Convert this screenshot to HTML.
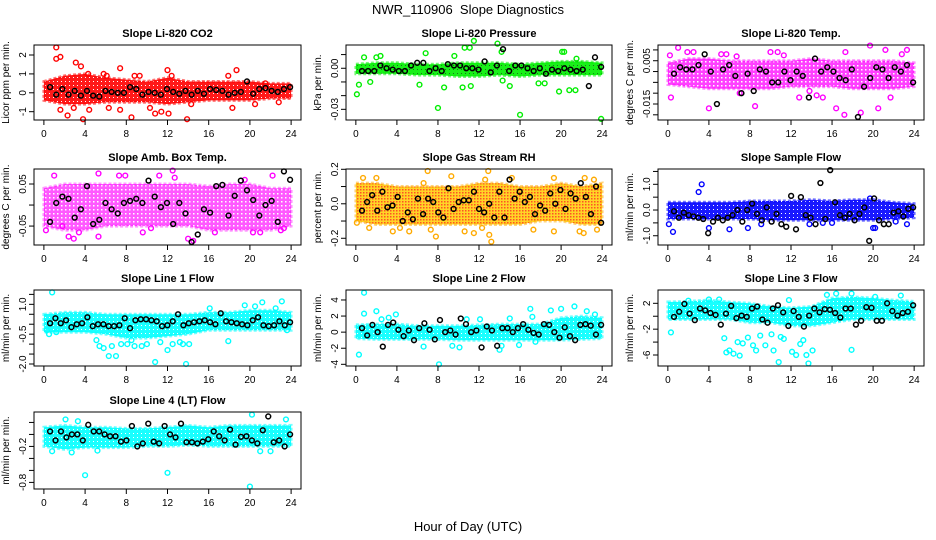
<!DOCTYPE html>
<html><head><meta charset="utf-8"><style>
html,body{margin:0;padding:0;background:#fff;}
svg{display:block;font-family:"Liberation Sans",sans-serif;}
</style></head><body>
<svg id="chart" width="936" height="540" viewBox="0 0 936 540" xmlns="http://www.w3.org/2000/svg">
<defs>
<pattern id="rhpat" width="3" height="3" patternUnits="userSpaceOnUse"><rect width="3" height="3" fill="#ffcc00"/><rect width="1.5" height="1.5" fill="#ff3300"/></pattern>
<pattern id="pat-ff0000" width="4" height="4" patternUnits="userSpaceOnUse"><rect width="4" height="4" fill="#ff0000"/><rect x="1" y="1" width="1" height="1" fill="#fff"/></pattern>
<pattern id="pat-00ee00" width="4" height="4" patternUnits="userSpaceOnUse"><rect width="4" height="4" fill="#00ee00"/><rect x="1" y="1" width="1" height="1" fill="#006600"/></pattern>
<pattern id="pat-ff00ff" width="4" height="4" patternUnits="userSpaceOnUse"><rect width="4" height="4" fill="#ff00ff"/><rect x="1" y="1" width="1.5" height="1.5" fill="#fff"/></pattern>
<pattern id="pat-0000ff" width="4" height="4" patternUnits="userSpaceOnUse"><rect width="4" height="4" fill="#0000ff"/><rect x="1" y="1" width="1" height="1" fill="#fff"/></pattern>
<pattern id="pat-00ffff" width="4" height="4" patternUnits="userSpaceOnUse"><rect width="4" height="4" fill="#00ffff"/><rect x="1" y="1" width="1" height="1" fill="#fff"/></pattern>
</defs>
<text x="468" y="14" text-anchor="middle" font-size="13">NWR_110906&#160; Slope Diagnostics</text>
<text x="468" y="531" text-anchor="middle" font-size="13">Hour of Day (UTC)</text>
<g id="panels"></g>
</svg>
<script>
const bandHours=[0,2,4,6,8,10,12,14,16,18,20,22,24];
const xTicks=[0,4,8,12,16,20,24];
// CO2
const p1Upper=[0.6,0.9,1.0,0.8,0.7,0.6,0.8,0.6,0.6,0.6,0.6,0.5,0.5];
const p1Lower=[-0.4,-0.6,-0.6,-0.5,-0.5,-0.5,-0.6,-0.5,-0.4,-0.4,-0.4,-0.3,-0.3];
const p1OutX=[1.2,1.2,1.6,3.1,3.6,2.3,2.9,3.8,4.4,1.6,7.4,7.4,8.5,8.8,9.3,10.3,10.8,11.4,12.1,12.0,12.4,13.9,14.3,17.9,18.3,18.7,20.5,21.5,4.3,5.8,6.1,6.3,22.8];
const p1OutY=[2.4,1.8,1.9,1.6,1.4,-1.2,-0.8,-1.4,-0.9,-0.9,1.3,-0.9,-1.3,0.9,0.9,-0.8,-1.1,-1.0,-1.1,1.2,0.9,-1.4,-0.6,0.9,-0.8,1.2,-0.6,0.5,1.0,1.0,0.9,-0.8,-0.5];
const p1Black=[0.3,-0.1,0.2,-0.1,0.1,-0.15,0.1,-0.15,-0.2,0.1,0.05,0,0,0.3,0.2,-0.1,0.05,0,-0.1,0.2,0.05,-0.05,0.1,-0.1,0.1,-0.05,0.2,0.15,0.1,-0.1,0.0,0.05,0.6,-0.05,0.2,0.25,0.1,0.05,0.2,0.3];
// Pressure
const p2Upper=[0.003,0.004,0.004,0.003,0.003,0.004,0.004,0.004,0.003,0.004,0.005,0.005,0.004];
const p2Lower=[-0.004,-0.004,-0.004,-0.005,-0.005,-0.006,-0.006,-0.005,-0.006,-0.005,-0.005,-0.005,-0.005];
const p2OutX=[0.1,0.3,0.8,1.4,2.0,2.4,6.2,6.8,8.0,8.6,9.6,10.4,10.6,11.1,11.5,11.2,13.8,14.2,15.0,16.0,17.8,18.4,19.8,20.1,20.3,20.8,21.4,21.5,23.9,14.3];
const p2OutY=[-0.019,-0.012,0.008,-0.010,0.008,0.009,-0.012,0.011,-0.029,-0.014,0.009,-0.014,0.015,0.015,0.020,-0.013,0.018,0.012,-0.013,-0.034,-0.011,-0.011,-0.017,0.012,0.012,-0.016,-0.016,0.007,-0.037,-0.009];
const p2Black=[-0.002,-0.002,-0.002,0.002,0,-0.001,-0.002,-0.002,0.002,0.004,0.004,-0.002,0,-0.002,0.003,0.002,0.002,0,0,-0.001,0.005,-0.003,0.002,0.014,-0.002,0.002,0.002,0,-0.002,0,-0.004,-0.001,-0.002,0,-0.001,-0.002,-0.001,-0.013,0.008,0.001];
// Li-820 Temp
const p3Upper=[0.004,0.006,0.006,0.005,0.005,0.005,0.005,0.006,0.005,0.005,0.005,0.005,0.004];
const p3Lower=[-0.006,-0.007,-0.008,-0.008,-0.008,-0.008,-0.007,-0.007,-0.007,-0.008,-0.008,-0.008,-0.007];
const p3OutX=[0.3,0.2,1.0,1.9,2.5,4.0,5.2,5.7,6.7,8.5,10.0,10.7,11.3,12.8,14.5,15.1,16.4,17.2,17.3,18.8,19.7,20.5,21.2,21.7,22.8,23.3,13.8,7.0];
const p3OutY=[-0.012,0.0075,0.011,0.009,0.009,-0.017,0.008,0.008,0.007,-0.016,0.009,0.009,0.0075,-0.012,-0.011,-0.012,-0.017,-0.020,0.009,-0.019,0.012,-0.017,0.010,-0.012,0.008,0.010,-0.009,-0.010];
const p3Black=[-0.001,0.002,0.001,0.001,0.003,0.008,0.000,-0.015,0.001,0.003,-0.002,-0.010,-0.001,-0.009,0.001,0.000,-0.005,-0.005,0.000,-0.004,0.000,-0.002,-0.012,0.006,0.000,0.002,0.000,-0.003,-0.004,0.001,-0.021,-0.007,-0.003,0.002,0.001,-0.003,0.002,0.000,0.003,-0.005];
// Amb Box Temp
const p4Upper=[0.04,0.05,0.05,0.05,0.05,0.05,0.05,0.05,0.045,0.05,0.05,0.04,0.04];
const p4Lower=[-0.05,-0.06,-0.06,-0.05,-0.05,-0.05,-0.05,-0.05,-0.06,-0.06,-0.06,-0.06,-0.05];
const p4OutX=[0.2,1.0,1.8,2.4,2.9,3.4,5.3,5.3,7.3,7.9,9.6,10.4,11.2,12.5,12.7,14.0,14.5,16.6,19.5,20.3,21.0,22.2,23.0,23.3];
const p4OutY=[-0.06,0.07,-0.05,-0.075,-0.08,-0.065,0.075,-0.075,0.07,0.07,-0.065,-0.055,0.07,0.082,0.065,-0.08,-0.085,-0.065,0.06,-0.065,-0.065,0.07,-0.06,-0.055];
const p4Black=[-0.04,0.005,0.02,0.015,-0.03,-0.01,0.045,-0.045,-0.035,0.005,-0.01,-0.02,0.005,0.01,0.015,0.005,0.058,0.02,-0.005,0.005,-0.045,0.005,-0.02,-0.088,-0.07,-0.01,-0.018,0.045,0.048,-0.025,0.022,0.058,0.035,0.012,-0.025,0.0,0.01,-0.04,0.08,0.06];
// Gas Stream RH
const p5Upper=[0.12,0.12,0.10,0.1,0.1,0.1,0.12,0.12,0.1,0.1,0.12,0.1,0.12];
const p5Lower=[-0.1,-0.12,-0.12,-0.12,-0.12,-0.12,-0.12,-0.12,-0.12,-0.1,-0.1,-0.12,-0.12];
const p5OutX=[0.1,0.7,1.3,2.0,3.6,4.3,5.2,6.6,7.0,7.3,7.8,9.3,10.6,11.5,12.3,12.6,12.9,13.0,13.2,15.2,17.3,19.3,19.3,21.8,22.2,22.3,23.2,23.5];
const p5OutY=[-0.11,0.15,-0.14,0.15,-0.16,-0.14,-0.16,0.12,0.19,-0.15,-0.19,0.16,-0.16,-0.17,-0.14,0.14,0.19,-0.18,-0.22,0.15,-0.15,0.15,-0.16,-0.16,-0.17,0.15,0.14,-0.15];
const p5Black=[-0.04,0.01,0.05,-0.04,0.07,-0.02,-0.01,0.04,-0.1,-0.05,-0.09,0.03,-0.06,0.03,0.01,-0.05,-0.08,0.09,-0.03,0.01,0.02,0.02,0.07,-0.03,-0.05,0.0,-0.08,0.07,-0.08,0.14,0.03,0.07,0.01,0.04,-0.06,-0.01,-0.04,0.06,0.0,0.08,-0.03,0.06,0.03,0.12,0.04,-0.06,0.1,-0.11];
// Sample Flow
const p6Upper=[0.3,0.3,0.3,0.3,0.35,0.35,0.35,0.4,0.35,0.4,0.4,0.3,0.25];
const p6Lower=[-0.35,-0.35,-0.35,-0.35,-0.35,-0.4,-0.4,-0.4,-0.4,-0.4,-0.4,-0.35,-0.3];
const p6OutX=[0.1,0.5,3.0,3.3,4.0,6.0,7.8,9.1,13.8,15.1,16.0,20.0,20.2,22.2,23.3,19.7];
const p6OutY=[-0.55,-0.85,0.7,1.0,-0.7,-0.75,-0.7,-0.55,-0.55,-0.5,-0.5,-0.7,-0.7,-0.45,-0.55,0.45];
const p6Black=[-0.05,-0.3,-0.1,-0.2,-0.25,-0.3,-0.35,-0.9,-0.45,-0.3,-0.4,-0.3,-0.2,0.0,-0.45,0.0,0.25,-0.15,-0.4,0.1,-0.45,-0.15,-0.55,-0.65,0.55,-0.75,0.5,-0.2,-0.3,-0.55,1.05,-0.35,1.55,0.3,-0.2,-0.3,-0.15,-0.4,-0.15,0.1,-1.2,0.45,-0.4,-0.55,-0.55,-0.1,-0.05,-0.25,0.05,0.1];
// Line 1 Flow
const p7Upper=[0.5,0.6,0.6,0.5,0.5,0.5,0.5,0.5,0.6,0.6,0.7,0.7,0.6];
const p7Lower=[-0.4,-0.4,-0.4,-0.5,-0.7,-0.7,-0.6,-0.5,-0.3,-0.3,-0.3,-0.3,-0.3];
const p7OutX=[0.3,0.5,1.2,0.8,5.1,5.4,5.8,6.3,6.6,7.0,7.5,8.1,8.5,8.8,9.5,10.0,10.8,11.3,12.0,12.5,13.2,13.5,13.8,14.1,17.9,21.2,23.1,23.6,19.5,20.5,16.1,22.5];
const p7OutY=[-0.3,-0.5,-0.4,1.6,-0.8,-1.1,-1.2,-1.6,-1.1,-1.6,-1.0,-1.0,-0.8,-1.1,-1.1,-1.0,-1.9,-0.9,-1.3,-1.0,-0.9,-1.0,-2.0,-1.0,-0.85,1.1,1.15,-0.3,0.95,0.9,0.8,0.8];
const p7Black=[0.05,0.3,0.05,0.2,-0.15,0.0,0.05,0.35,-0.1,0.0,0.0,-0.1,-0.1,-0.05,0.3,-0.2,0.2,0.25,0.25,0.2,0.15,-0.1,-0.05,0.15,0.5,-0.05,0.05,0.1,0.15,0.2,0.1,0.0,0.55,0.15,0.1,0.05,0.0,-0.05,0.2,0.35,-0.05,-0.1,-0.05,0.15,-0.05,0.1];
// Line 2 Flow
const p8Upper=[0.9,1.0,1.0,0.8,0.8,0.8,0.9,1.0,1.0,1.0,1.8,2.0,1.8];
const p8Lower=[-0.8,-0.9,-0.9,-0.9,-0.9,-1.0,-1.0,-1.0,-1.0,-1.0,-1.0,-0.9,-0.8];
const p8OutX=[0.3,0.8,0.8,2.0,2.5,3.2,3.9,6.6,8.1,9.4,10.8,12.1,14.0,14.2,15.0,15.9,17.0,17.2,19.0,20.0,21.3,22.5,23.3,17.5,10.1];
const p8OutY=[-2.8,4.9,2.3,2.6,1.6,1.8,2.2,-1.8,-4.0,-1.7,1.6,1.6,-2.2,-1.7,1.7,-1.6,2.9,1.9,2.7,2.9,3.2,2.6,2.2,-1.2,-1.9];
const p8Black=[0.5,-0.4,0.9,0.0,-1.8,0.9,1.2,0.3,-0.5,0.2,-1.0,0.5,1.1,0.3,-0.9,1.5,0.0,0.2,-0.3,1.7,1.0,0.0,0.2,-1.9,0.7,0.2,-1.7,0.5,0.5,0.0,0.5,1.0,0.3,-0.1,-0.3,1.0,0.9,0.0,-0.7,0.6,-0.5,-1.0,0.9,1.0,0.8,-0.3,0.9];
// Line 3 Flow
const p9Upper=[2.2,2.3,2.5,2.2,2.0,1.5,1.3,1.5,2.8,3.0,2.8,2.5,2.3];
const p9Lower=[-0.5,-0.5,-0.5,-0.5,-1.0,-1.0,-1.5,-1.5,-1.0,-0.5,-0.5,-0.5,-0.5];
const p9OutX=[0.3,5.5,5.7,6.0,6.4,6.8,7.0,7.3,7.8,8.3,8.6,9.0,9.5,10.1,10.3,10.8,11.0,11.3,12.1,12.5,12.9,13.5,13.7,14.1,13.2,17.9,16.4,17.9,15.5,22.7,20.2,2.0,4.0,5.0,11.8];
const p9OutY=[-2.5,-3.4,-5.6,-5.3,-5.8,-4.0,-6.1,-4.2,-3.3,-4.5,-5.3,-3.0,-4.5,-2.8,-5.3,-7.1,-3.2,-3.5,-5.5,-6.0,-4.3,-6.0,-7.3,-5.3,-3.7,-5.2,3.5,3.5,3.3,3.2,3.0,2.4,2.6,2.6,2.5];
const p9Black=[-0.1,0.7,1.9,0.4,-0.6,1.2,0.9,0.5,0.2,-1.3,0.4,1.6,-0.3,0.1,-0.1,1.2,1.5,-0.5,-1.0,1.2,1.7,0.6,-1.5,0.8,-0.1,-1.6,0.1,1.2,0.6,1.1,1.0,0.5,-0.2,1.2,1.2,-1.3,-0.7,1.4,1.3,-0.7,-0.7,2.0,0.8,0.1,0.5,0.7,1.7];
// Line 4 (LT) Flow
const p10Upper=[0.12,0.15,0.12,0.12,0.1,0.1,0.12,0.15,0.12,0.15,0.15,0.15,0.15];
const p10Lower=[-0.2,-0.25,-0.22,-0.22,-0.22,-0.2,-0.2,-0.18,-0.2,-0.2,-0.2,-0.2,-0.2];
const p10OutX=[4.0,12.0,20.0,20.2,21.0,22.0,23.5,2.1,3.3,0.8,2.7,5.2];
const p10OutY=[-0.68,-0.64,-0.87,0.33,-0.28,-0.28,0.25,0.25,0.22,-0.28,-0.3,-0.27];
const p10Black=[0.05,-0.1,0.05,-0.05,0.0,0.0,-0.1,0.16,0.05,0.05,0.0,-0.03,-0.03,-0.12,-0.1,0.14,-0.2,-0.15,0.18,-0.12,-0.15,0.14,0.0,-0.05,0.18,-0.13,-0.13,-0.15,-0.12,-0.08,0.05,-0.03,-0.1,0.08,-0.17,-0.04,-0.03,-0.1,-0.15,0.07,0.3,-0.13,-0.1,-0.2,0.0];

const NS="http://www.w3.org/2000/svg";
const panels=[
 {name:"co2",title:"Slope Li-820 CO2",ylab:"Licor ppm per min.",L:34,T:45,W:267,H:75,ylim:[-1.44,2.53],ticks:[-1,0,1,2],labels:["-1","0","1","2"],col:"#ff0000",fill:"url(#pat-ff0000)",op:0.9,up:p1Upper,lo:p1Lower,ox:p1OutX,oy:p1OutY,bk:p1Black},
 {name:"pressure",title:"Slope Li-820 Pressure",ylab:"kPa per min.",L:346,T:45,W:266,H:75,ylim:[-0.0378,0.017],ticks:[0.01,0,-0.01,-0.02,-0.03],labels:["","0.00","","","-0.03"],col:"#00ee00",fill:"url(#pat-00ee00)",op:0.9,up:p2Upper,lo:p2Lower,ox:p2OutX,oy:p2OutY,bk:p2Black},
 {name:"li820-temp",title:"Slope Li-820 Temp.",ylab:"degrees C per min.",L:658,T:45,W:266,H:75,ylim:[-0.0224,0.01227],ticks:[0.01,0.005,0,-0.005,-0.01,-0.015,-0.02],labels:["","0.005","","","","-0.015",""],col:"#ff00ff",fill:"url(#pat-ff00ff)",op:0.75,up:p3Upper,lo:p3Lower,ox:p3OutX,oy:p3OutY,bk:p3Black},
 {name:"amb-box-temp",title:"Slope Amb. Box Temp.",ylab:"degrees C per min.",L:34,T:169,W:267,H:76,ylim:[-0.095,0.0857],ticks:[0.05,0,-0.05],labels:["0.05","","-0.05"],col:"#ff00ff",fill:"url(#pat-ff00ff)",op:0.65,up:p4Upper,lo:p4Lower,ox:p4OutX,oy:p4OutY,bk:p4Black},
 {name:"gas-stream-rh",title:"Slope Gas Stream RH",ylab:"percent per min.",L:346,T:169,W:266,H:76,ylim:[-0.239,0.2017],ticks:[0.2,0.1,0,-0.1,-0.2],labels:["0.2","","0.0","","-0.2"],col:"#ffaa00",fill:"url(#rhpat)",op:0.85,up:p5Upper,lo:p5Lower,ox:p5OutX,oy:p5OutY,bk:p5Black},
 {name:"sample-flow",title:"Slope Sample Flow",ylab:"ml/min per min.",L:658,T:169,W:266,H:76,ylim:[-1.36,1.595],ticks:[1.5,1,0.5,0,-0.5,-1],labels:["","1.0","","0.0","","-1.0"],col:"#0000ff",fill:"url(#pat-0000ff)",op:0.9,up:p6Upper,lo:p6Lower,ox:p6OutX,oy:p6OutY,bk:p6Black},
 {name:"line1-flow",title:"Slope Line 1 Flow",ylab:"ml/min per min.",L:34,T:290,W:267,H:76,ylim:[-2.1,1.72],ticks:[1.5,1,0.5,0,-0.5,-1,-1.5,-2],labels:["","1.0","","","-0.5","","","-2.0"],col:"#00ffff",fill:"url(#pat-00ffff)",op:0.9,up:p7Upper,lo:p7Lower,ox:p7OutX,oy:p7OutY,bk:p7Black},
 {name:"line2-flow",title:"Slope Line 2 Flow",ylab:"ml/min per min.",L:346,T:290,W:266,H:76,ylim:[-4.21,5.24],ticks:[4,2,0,-2,-4],labels:["4","2","0","-2","-4"],col:"#00ffff",fill:"url(#pat-00ffff)",op:0.9,up:p8Upper,lo:p8Lower,ox:p8OutX,oy:p8OutY,bk:p8Black},
 {name:"line3-flow",title:"Slope Line 3 Flow",ylab:"ml/min per min.",L:658,T:290,W:266,H:76,ylim:[-7.7,4.06],ticks:[2,0,-2,-4,-6],labels:["2","","-2","","-6"],col:"#00ffff",fill:"url(#pat-00ffff)",op:0.9,up:p9Upper,lo:p9Lower,ox:p9OutX,oy:p9OutY,bk:p9Black},
 {name:"line4-flow",title:"Slope Line 4 (LT) Flow",ylab:"ml/min per min.",L:34,T:412,W:267,H:77,ylim:[-0.91,0.374],ticks:[0.2,0,-0.2,-0.4,-0.6,-0.8],labels:["","","-0.2","","","-0.8"],col:"#00ffff",fill:"url(#pat-00ffff)",op:0.9,up:p10Upper,lo:p10Lower,ox:p10OutX,oy:p10OutY,bk:p10Black}
];
function mk(tag,attrs,parent){const e=document.createElementNS(NS,tag);for(const k in attrs)e.setAttribute(k,attrs[k]);parent.appendChild(e);return e;}
const root=document.getElementById("panels");
panels.forEach(p=>{
 const g=mk("g",{},root);
 
 
 const xs=h=>p.L+(h+0.96)/25.92*p.W;
 const ys=v=>p.T+(p.ylim[1]-v)/(p.ylim[1]-p.ylim[0])*p.H;
 const B=p.T+p.H;
 let d="";
 bandHours.forEach((h,i)=>{d+=(i?"L":"M")+xs(h).toFixed(1)+","+ys(p.up[i]).toFixed(1);});
 for(let i=bandHours.length-1;i>=0;i--)d+="L"+xs(bandHours[i]).toFixed(1)+","+ys(p.lo[i]).toFixed(1);
 const band=mk("path",{d:d+"Z",fill:p.fill,"fill-opacity":p.op,stroke:p.col,"stroke-width":3,"stroke-opacity":p.op*0.6,"stroke-dasharray":"3 2"},g);
 
 
 p.ox.forEach((x,i)=>{
  const c=mk("circle",{cx:xs(x),cy:ys(p.oy[i]),r:2.4,fill:"none",stroke:p.col,"stroke-width":1.4},g);
  
  
 });
 const n=p.bk.length;
 p.bk.forEach((v,i)=>{
  const hx=0.6+i*(23.3/(n-1));
  const c=mk("circle",{cx:xs(hx),cy:ys(v),r:2.4,fill:"none",stroke:"#000","stroke-width":1.5},g);
  
  
 });
 const box=mk("rect",{x:p.L,y:p.T,width:p.W,height:p.H,fill:"none",stroke:"#000","stroke-width":1},g);
 
 
 const t=mk("text",{x:p.L+p.W/2,y:p.T-8,"text-anchor":"middle","font-size":"11","font-weight":"bold"},g);
 t.textContent=p.title;
 
 
 const yl=mk("text",{x:0,y:0,"text-anchor":"middle","font-size":"10",transform:`translate(${p.L-25},${p.T+p.H/2}) rotate(-90)`},g);
 yl.textContent=p.ylab;
 
 
 xTicks.forEach(h=>{
  mk("line",{x1:xs(h),x2:xs(h),y1:B,y2:B+5,stroke:"#000"},g);
  const tl=mk("text",{x:xs(h),y:B+17,"text-anchor":"middle","font-size":"10"},g);
  tl.textContent=h;
  
  
 });
 p.ticks.forEach((v,i)=>{
  const y=ys(v);
  mk("line",{x1:p.L-5,x2:p.L,y1:y,y2:y,stroke:"#000"},g);
  if(p.labels[i]){
   const tl=mk("text",{x:0,y:0,"text-anchor":"middle","font-size":"10",transform:`translate(${p.L-8},${y}) rotate(-90)`},g);
   tl.textContent=p.labels[i];
   
   
  }
 });
});
</script>
</body></html>
